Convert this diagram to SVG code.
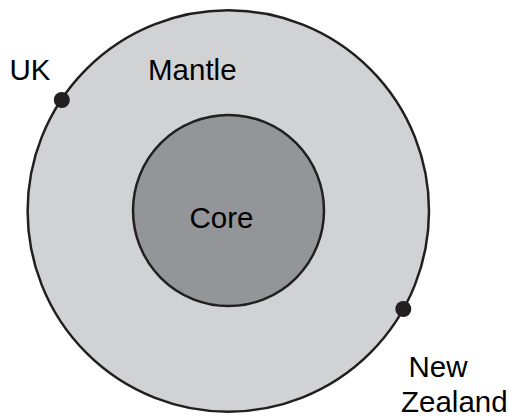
<svg xmlns="http://www.w3.org/2000/svg" width="509" height="416" viewBox="0 0 509 416">
<style>
.lbl{font-family:"Liberation Sans",Arial,sans-serif;font-size:29.5px;fill:#000}
.ring{stroke:#231f20;stroke-width:2.5}
.dot{fill:#231f20}
</style>
<rect width="509" height="416" fill="#fff"/>
<g id="mantle">
<circle class="ring" cx="228.3" cy="211" r="200.7" fill="#d1d2d4"/>
<text class="lbl" x="148" y="80">Mantle</text>
</g>
<g id="core">
<circle class="ring" cx="228.5" cy="210.5" r="95.5" fill="#939598"/>
<text class="lbl" x="189.5" y="227.5">Core</text>
</g>
<g id="uk">
<circle class="dot" cx="61.8" cy="100" r="8"/>
<text class="lbl" x="9.5" y="80">UK</text>
</g>
<g id="nz">
<circle class="dot" cx="403.3" cy="309" r="8"/>
<text class="lbl" x="408.5" y="376.5">New</text>
<text class="lbl" x="401" y="411.5">Zealand</text>
</g>
<g id="connectors"></g>
</svg>
